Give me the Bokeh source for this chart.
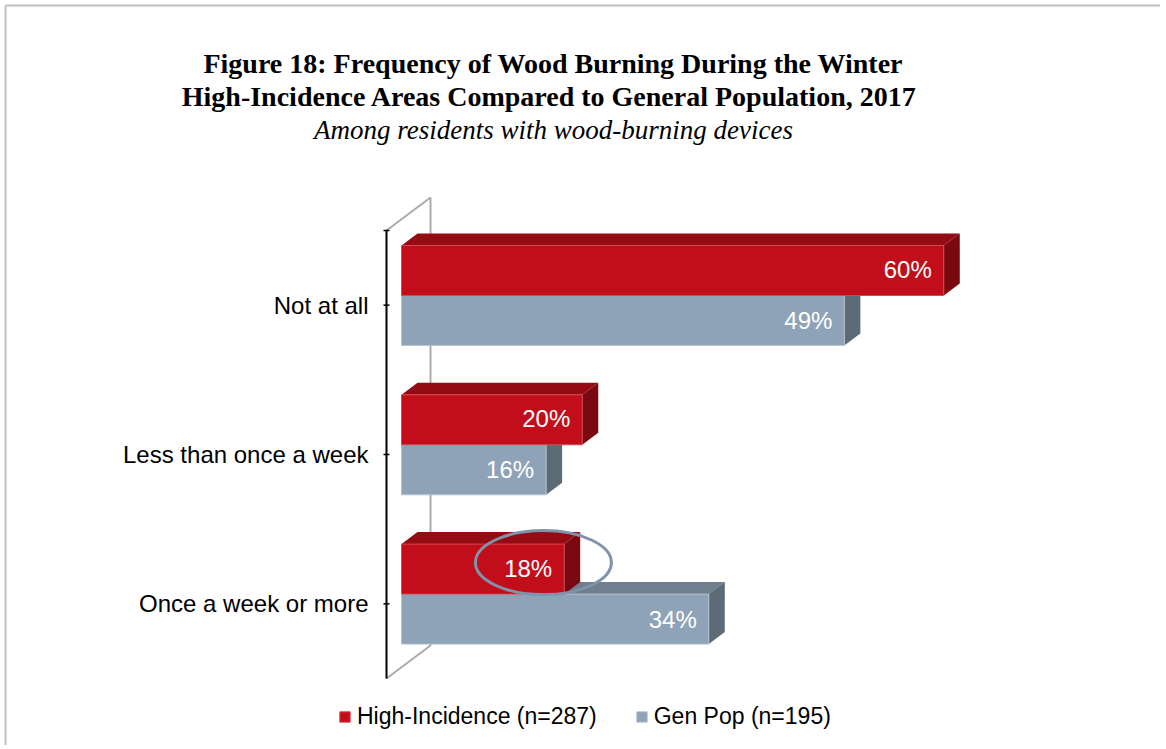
from bokeh.plotting import figure
from bokeh.models import Range1d, Legend, LegendItem
from bokeh.core.properties import value
from bokeh.embed import file_html
from bokeh.resources import INLINE

# ---- data ----
categories = ["Not at all", "Less than once a week", "Once a week or more"]
high_incidence = [60, 20, 18]
gen_pop = [49, 16, 34]
series_names = ["High-Incidence (n=287)", "Gen Pop (n=195)"]
title_lines = ["Figure 18: Frequency of Wood Burning During the Winter",
               "High-Incidence Areas Compared to General Population, 2017"]
subtitle = "Among residents with wood-burning devices"

# ---- layout helpers (pixels -> data units) ----
K = 9.038      # pixels per percent
R = 149.33     # pixels per category row
X0, Y0 = 401, 230
def X(px): return (px - X0) / K
def Y(py): return (py - Y0) / R

W, H = 1160, 745
p = figure(width=W, height=H, output_backend="svg", toolbar_location=None,
           x_range=Range1d(X(0), X(W)), y_range=Range1d(Y(H), Y(0)),
           x_axis_type=None, y_axis_type=None, min_border=0,
           outline_line_color=None, background_fill_color="white",
           border_fill_color="white")
p.grid.visible = False

# outer border (top and left)
p.multi_line(xs=[[X(5), X(W)], [X(5), X(5)]], ys=[[Y(5), Y(5)], [Y(5), Y(H)]],
             line_color="#BFBFBF", line_width=2)

# titles
p.text(x=[X(553), X(549)], y=[Y(63), Y(96)], text=title_lines,
       text_font=value("Liberation Serif"), text_font_style="bold", text_font_size="28px",
       text_align="center", text_baseline="middle", text_color="black")
p.text(x=[X(553)], y=[Y(129)], text=[subtitle],
       text_font=value("Liberation Serif"), text_font_style="italic", text_font_size="27px",
       text_align="center", text_baseline="middle", text_color="black")

n = len(categories)
# back wall (3D frame)
wx, wy = X(430), Y(197) - Y(230)
ax_x = X(386)
p.multi_line(xs=[[ax_x, wx, wx, ax_x]], ys=[[0, wy, n + wy, n]],
             line_color="#ABABAB", line_width=2)

# bars
dx = 16 / K
dy = 12 / R
th = 50 / R
shift = -0.065
centers = [i + 0.5 for i in range(n)]

def faces(vals, top_list, bot_list):
    tops_x, tops_y, sides_x, sides_y = [], [], [], []
    for v, t, b in zip(vals, top_list, bot_list):
        tops_x.append([0, v, v + dx, dx])
        tops_y.append([t, t, t - dy, t - dy])
        sides_x.append([v, v + dx, v + dx, v])
        sides_y.append([t, t - dy, b - dy, b])
    return tops_x, tops_y, sides_x, sides_y

red_top = [c + shift - th for c in centers]
red_bot = [c + shift for c in centers]
gray_top = [c + shift for c in centers]
gray_bot = [c + shift + th for c in centers]

gtx, gty, gsx, gsy = faces(gen_pop, gray_top, gray_bot)
p.patches(gtx, gty, fill_color="#6F7F8E", line_color=None)
p.patches(gsx, gsy, fill_color="#5D6B77", line_color=None)
r_gray = p.quad(left=[0] * n, right=gen_pop, top=gray_top, bottom=gray_bot,
                fill_color="#8EA3B7", line_color="#B5C3D0", line_width=1)

rtx, rty, rsx, rsy = faces(high_incidence, red_top, red_bot)
p.patches(rtx, rty, fill_color="#940B14", line_color=None)
p.patches(rsx, rsy, fill_color="#7A0810", line_color=None)
r_red = p.quad(left=[0] * n, right=high_incidence, top=red_top, bottom=red_bot,
               fill_color="#C20E1A", line_color="#D24A52", line_width=1)

# value labels
p.text(x=high_incidence, y=[(a + b) / 2 for a, b in zip(red_top, red_bot)],
       text=[f"{v}%" for v in high_incidence], text_color="white",
       text_font=value("Liberation Sans"), text_font_size="24px",
       text_align="right", text_baseline="middle", x_offset=-12, y_offset=-1)
p.text(x=gen_pop, y=[(a + b) / 2 for a, b in zip(gray_top, gray_bot)],
       text=[f"{v}%" for v in gen_pop], text_color="white",
       text_font=value("Liberation Sans"), text_font_size="24px",
       text_align="right", text_baseline="middle", x_offset=-12, y_offset=0)

# front axis
p.segment(x0=[ax_x], y0=[0], x1=[ax_x], y1=[n], line_color="black", line_width=2)
tick_y = [0] + centers
p.segment(x0=[ax_x - 3 / K] * len(tick_y), y0=tick_y,
          x1=[ax_x + 3 / K] * len(tick_y), y1=tick_y, line_color="black", line_width=1.5)

# category labels
p.text(x=[X(368)] * n, y=centers, text=categories, text_color="black",
       text_font=value("Liberation Sans"), text_font_size="24px",
       text_align="right", text_baseline="middle")

# highlight ellipse around the 18%
hi_i = 2
p.ellipse(x=[high_incidence[hi_i] - 2.3], y=[red_top[hi_i] + th * 0.37],
          width=136 / K, height=64 / R, fill_color=None,
          line_color="#7F93AB", line_width=3)

legend = Legend(items=[LegendItem(label=series_names[0], renderers=[r_red]),
                       LegendItem(label=series_names[1], renderers=[r_gray])],
                orientation="horizontal", location=(338, 15),
                glyph_width=13, glyph_height=13, label_standoff=6, spacing=38,
                padding=0, margin=0, border_line_color=None,
                background_fill_alpha=0,
                label_text_font="Liberation Sans", label_text_font_size="23px",
                label_text_color="black")
p.add_layout(legend)

open("out.html", "w").write(file_html(p, INLINE))
